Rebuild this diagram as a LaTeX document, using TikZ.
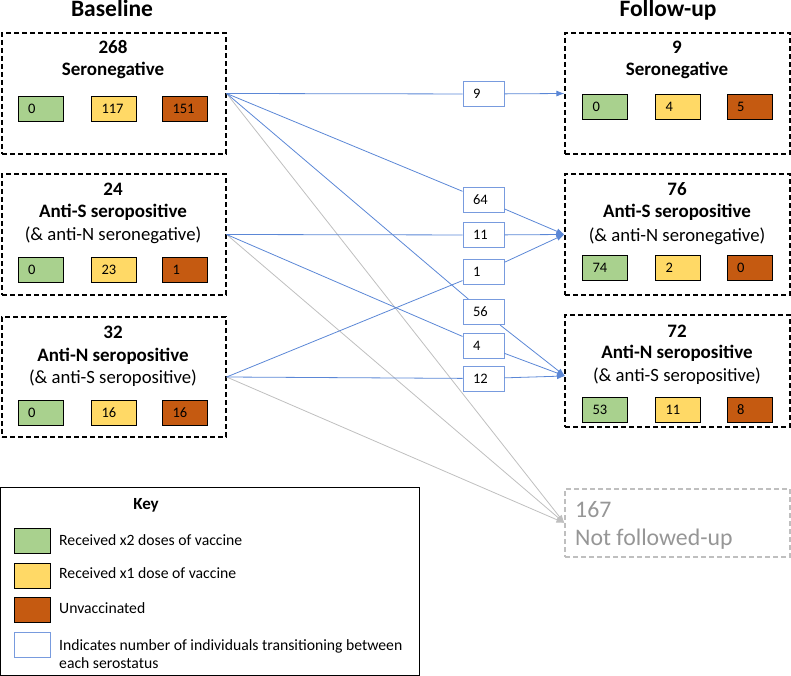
\documentclass[tikz,border=0pt]{standalone}
\usepackage{fontspec}
\setmainfont{Carlito}
\usepackage{tikz}
\usetikzlibrary{arrows.meta}
\definecolor{vgreen}{RGB}{169,209,142}
\definecolor{vyellow}{RGB}{255,217,102}
\definecolor{vorange}{RGB}{197,90,17}
\definecolor{flowblue}{RGB}{91,135,214}
\definecolor{labblue}{RGB}{120,155,222}
\definecolor{lostgray}{RGB}{191,191,191}
\definecolor{losttext}{RGB}{150,150,150}

\begin{document}
\begin{tikzpicture}[x=1pt,y=1pt]
\tikzstyle{every node}+=[inner sep=0pt]
\tikzstyle{statbox}=[draw=black, line width=1.2pt, dash pattern=on 5pt off 3pt, minimum width=224pt, minimum height=121pt]
\tikzstyle{dosebox}=[draw=black, line width=0.9pt, minimum width=45pt, minimum height=25pt, inner xsep=10pt, text width=25pt, align=left, font=\fontsize{14.5}{17}\selectfont]
\tikzstyle{countbox}=[draw=labblue, fill=white, line width=1pt, minimum width=41pt, minimum height=25pt, inner xsep=10pt, text width=21pt, align=left, font=\fontsize{14.5}{17}\selectfont]
\tikzstyle{keybox}=[draw=black, line width=0.9pt, minimum width=36pt, minimum height=25pt]
\tikzstyle{headtext}=[anchor=base, font=\fontsize{23.5}{28}\selectfont\bfseries]
\tikzstyle{numtext}=[anchor=base, font=\fontsize{19}{22}\selectfont\bfseries]
\tikzstyle{subtext}=[anchor=base, font=\fontsize{18.7}{22}\selectfont]
\tikzstyle{keytext}=[anchor=base west, font=\fontsize{15.7}{18}\selectfont]
\tikzstyle{flow}=[draw=flowblue, line width=0.8pt]
\tikzstyle{lost}=[draw=lostgray, line width=0.8pt]
\useasboundingbox (0,0) rectangle (791,-676);
% column headings
\draw (112,-17) node [headtext] (basehead) {Baseline};
\draw (668,-17) node [headtext] (followhead) {Follow-up};
% baseline boxes
\draw (114,-93.5) node [statbox] (b1) {};
\draw (113,-54) node [numtext] (b1n) {268};
\draw (113,-76) node [numtext] (b1t) {Seronegative};
\draw (40.5,-108.5) node [dosebox, fill=vgreen] (b1g) {0};
\draw (114,-108.5) node [dosebox, fill=vyellow] (b1y) {117};
\draw (185,-108.5) node [dosebox, fill=vorange] (b1o) {151};
\draw (114,-234.5) node [statbox] (b2) {};
\draw (113,-196) node [numtext] (b2n) {24};
\draw (113,-218) node [numtext] (b2t) {Anti-S seropositive};
\draw (113,-240) node [subtext] (b2s) {(\& anti-N seronegative)};
\draw (40.5,-269.5) node [dosebox, fill=vgreen] (b2g) {0};
\draw (114,-269.5) node [dosebox, fill=vyellow] (b2y) {23};
\draw (185,-269.5) node [dosebox, fill=vorange] (b2o) {1};
\draw (114,-377) node [statbox, minimum height=120pt] (b3) {};
\draw (113,-338) node [numtext] (b3n) {32};
\draw (113,-361) node [numtext] (b3t) {Anti-N seropositive};
\draw (113,-383) node [subtext] (b3s) {(\& anti-S seropositive)};
\draw (40.5,-413) node [dosebox, fill=vgreen] (b3g) {0};
\draw (114,-413) node [dosebox, fill=vyellow] (b3y) {16};
\draw (185,-413) node [dosebox, fill=vorange] (b3o) {16};
% follow-up boxes
\draw (677.5,-93.5) node [statbox, minimum width=225pt] (r1) {};
\draw (677,-54) node [numtext] (r1n) {9};
\draw (677,-76) node [numtext] (r1t) {Seronegative};
\draw (605,-107) node [dosebox, fill=vgreen] (r1g) {0};
\draw (678,-107) node [dosebox, fill=vyellow] (r1y) {4};
\draw (749.5,-107) node [dosebox, fill=vorange] (r1o) {5};
\draw (677.5,-234.5) node [statbox, minimum width=225pt] (r2) {};
\draw (677,-196) node [numtext] (r2n) {76};
\draw (677,-218) node [numtext] (r2t) {Anti-S seropositive};
\draw (677,-241) node [subtext] (r2s) {(\& anti-N seronegative)};
\draw (605,-267.5) node [dosebox, fill=vgreen] (r2g) {74};
\draw (678,-267.5) node [dosebox, fill=vyellow] (r2y) {2};
\draw (749.5,-267.5) node [dosebox, fill=vorange] (r2o) {0};
\draw (677.5,-371) node [statbox, minimum width=225pt, minimum height=112pt] (r3) {};
\draw (677,-337) node [numtext] (r3n) {72};
\draw (677,-358) node [numtext] (r3t) {Anti-N seropositive};
\draw (677,-381) node [subtext] (r3s) {(\& anti-S seropositive)};
\draw (605,-409.5) node [dosebox, fill=vgreen] (r3g) {53};
\draw (678,-409.5) node [dosebox, fill=vyellow] (r3y) {11};
\draw (749.5,-409.5) node [dosebox, fill=vorange] (r3o) {8};
\draw (677.5,-523) node [draw=lostgray, line width=1.2pt, dash pattern=on 5pt off 3pt, minimum width=225pt, minimum height=68pt] (nfu) {};
\draw (575,-517) node [anchor=base west, text=losttext, font=\fontsize{23.8}{28}\selectfont] (nfun) {167};
\draw (575,-545) node [anchor=base west, text=losttext, font=\fontsize{23.8}{28}\selectfont] (nfut) {Not followed-up};
\coordinate (r3in) at (565,-376);
% transition counts
\draw (483.5,-94) node [countbox] (c9) {9};
\draw (483.5,-200) node [countbox] (c64) {64};
\draw (483.5,-235) node [countbox] (c11) {11};
\draw (483.5,-272) node [countbox] (c1) {1};
\draw (483.5,-312) node [countbox] (c56) {56};
\draw (483.5,-345.5) node [countbox] (c4) {4};
\draw (483.5,-378.5) node [countbox] (c12) {12};
% transitions
\draw [lost, -{Latex[length=8pt,width=6pt]}] (b1.east) -- (nfu.west);
\draw [lost, -{Latex[length=8pt,width=6pt]}] (b2.east) -- (nfu.west);
\draw [lost, -{Latex[length=8pt,width=6pt]}] (b3.east) -- (nfu.west);
\draw [flow] (b1.east) -- (c9);
\draw [flow, -{Latex[length=8pt,width=6pt]}] (c9) -- (r1.west);
\draw [flow] (b1.east) -- (c64);
\draw [flow, -{Latex[length=8pt,width=6pt]}] (c64) -- (r2.west);
\draw [flow] (b1.east) -- (c56);
\draw [flow, -{Latex[length=8pt,width=6pt]}] (c56) -- (r3in);
\draw [flow] (b2.east) -- (c11);
\draw [flow, -{Latex[length=8pt,width=6pt]}] (c11) -- (r2.west);
\draw [flow] (b2.east) -- (c4);
\draw [flow, -{Latex[length=8pt,width=6pt]}] (c4) -- (r3in);
\draw [flow] (b3.east) -- (c1);
\draw [flow, -{Latex[length=8pt,width=6pt]}] (c1) -- (r2.west);
\draw [flow] (b3.east) -- (c12);
\draw [flow, -{Latex[length=8pt,width=6pt]}] (c12) -- (r3in);
% key
\draw (210,-581) node [draw=black, line width=0.9pt, minimum width=419pt, minimum height=188pt] (key) {};
\draw (146,-509) node [anchor=base, font=\fontsize{17}{20}\selectfont\bfseries] (keyt) {Key};
\draw (32,-540.5) node [keybox, fill=vgreen] (kg) {};
\draw (32,-575.5) node [keybox, fill=vyellow] (ky) {};
\draw (32,-610) node [keybox, fill=vorange] (ko) {};
\draw (32,-644.5) node [keybox, draw=labblue] (kb) {};
\draw (59,-545) node [keytext] (kgt) {Received x2 doses of vaccine};
\draw (59,-578) node [keytext] (kyt) {Received x1 dose of vaccine};
\draw (59,-613) node [keytext] (kot) {Unvaccinated};
\draw (59,-650) node [keytext] (kbt) {Indicates number of individuals transitioning between};
\draw (59,-668) node [keytext] (kbt2) {each serostatus};
\end{tikzpicture}
\end{document}
